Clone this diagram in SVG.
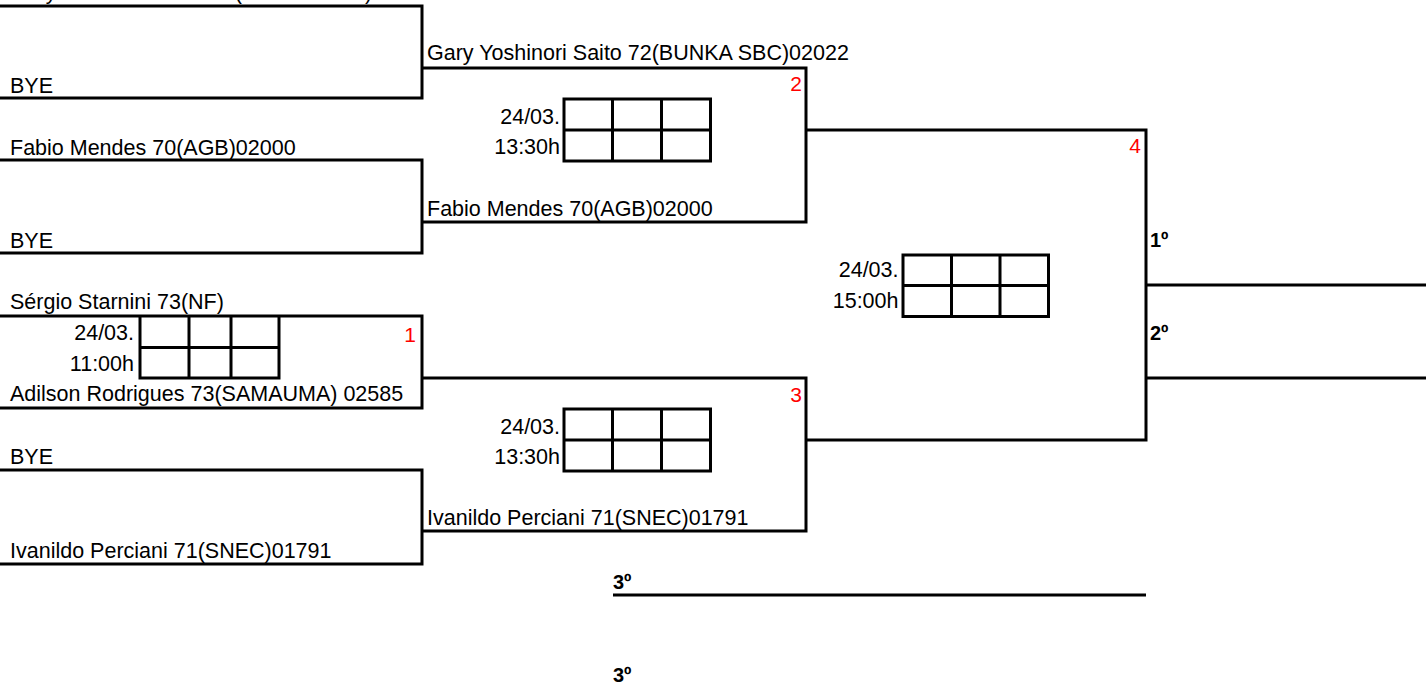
<svg xmlns="http://www.w3.org/2000/svg" width="1426" height="685" viewBox="0 0 1426 685">
<style>
.t{font-family:"Liberation Sans",Arial,sans-serif;font-size:21.5px;fill:#000}
.r{text-anchor:end}
.n{font-family:"Liberation Sans",Arial,sans-serif;font-size:21px;fill:#ff0000;text-anchor:end}
.b{font-family:"Liberation Sans",Arial,sans-serif;font-size:20px;font-weight:bold;fill:#000}
.l{fill:none;stroke:#000;stroke-width:3}
</style>
<rect width="1426" height="685" fill="#fff"/>
<g id="connectors">
<path class="l" d="M0 6H422V98H0"/>
<path class="l" d="M0 160H422V253H0"/>
<path class="l" d="M0 316H422V408H0"/>
<path class="l" d="M0 470H422V564H0"/>
<path class="l" d="M422 68H806V222H422"/>
<path class="l" d="M422 378H806V531H422"/>
<path class="l" d="M806 130H1146V440H806"/>
<path class="l" d="M1146 285H1426M1146 378H1426"/>
<path class="l" d="M613 595H1146"/>
</g>
<g id="entries">
<text class="t" x="10" y="-1.5">Gary Yoshinori Saito 72(BUNKA SBC)02022</text>
<text class="t" x="10" y="93">BYE</text>
<text class="t" x="10" y="155">Fabio Mendes 70(AGB)02000</text>
<text class="t" x="10" y="248">BYE</text>
<text class="t" x="10" y="309">Sérgio Starnini 73(NF)</text>
<text class="t" x="10" y="401">Adilson Rodrigues 73(SAMAUMA) 02585</text>
<text class="t" x="10" y="464">BYE</text>
<text class="t" x="10" y="558">Ivanildo Perciani 71(SNEC)01791</text>
<text class="t" x="427" y="60">Gary Yoshinori Saito 72(BUNKA SBC)02022</text>
<text class="t" x="427" y="216">Fabio Mendes 70(AGB)02000</text>
<text class="t" x="427" y="525">Ivanildo Perciani 71(SNEC)01791</text>
</g>
<g id="match1">
<path class="l" d="M140 316V378H279V316M189 316V378M231 316V378M140 347.5H279"/>
<text class="t r" x="134" y="340">24/03.</text>
<text class="t r" x="134" y="370.5">11:00h</text>
<text class="n" x="416" y="342">1</text>
</g>
<g id="match2">
<rect class="l" x="564" y="99" width="146.5" height="62"/>
<path class="l" d="M612.5 99V161M661.5 99V161M564 130H710.5"/>
<text class="t r" x="560" y="123.5">24/03.</text>
<text class="t r" x="560" y="153.5">13:30h</text>
<text class="n" x="802" y="91">2</text>
</g>
<g id="match3">
<rect class="l" x="564" y="409" width="146.5" height="62"/>
<path class="l" d="M612.5 409V471M661.5 409V471M564 440H710.5"/>
<text class="t r" x="560" y="433.5">24/03.</text>
<text class="t r" x="560" y="463.5">13:30h</text>
<text class="n" x="802" y="402">3</text>
</g>
<g id="match4">
<rect class="l" x="903" y="255" width="145.5" height="61.5"/>
<path class="l" d="M951.5 255V316.5M1000 255V316.5M903 285.5H1048.5"/>
<text class="t r" x="898.5" y="277">24/03.</text>
<text class="t r" x="898.5" y="308">15:00h</text>
<text class="n" x="1141" y="153">4</text>
</g>
<g id="places">
<text class="b" x="1150" y="247">1º</text>
<text class="b" x="1150" y="340">2º</text>
<text class="b" x="613" y="589">3º</text>
<text class="b" x="613" y="682">3º</text>
</g>
</svg>
